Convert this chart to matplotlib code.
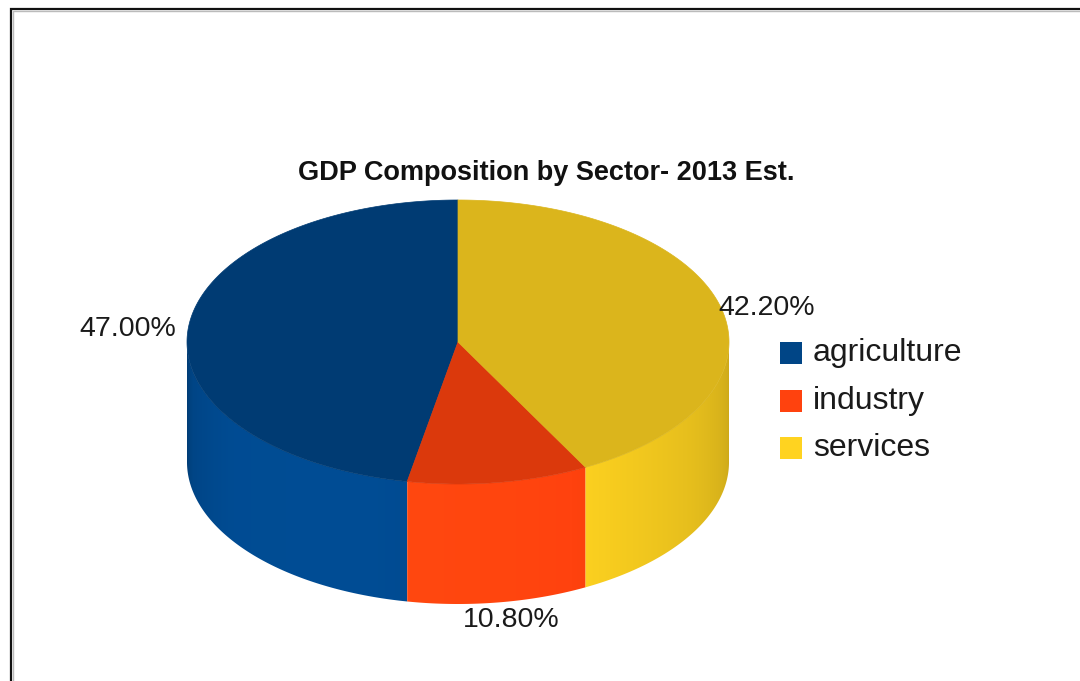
import numpy as np
import matplotlib
matplotlib.use("Agg")
import matplotlib.pyplot as plt
from matplotlib.patches import Polygon, Rectangle
from matplotlib.colors import to_rgb

plt.rcParams['font.family'] = ['Liberation Sans', 'DejaVu Sans']

title = "GDP Composition by Sector- 2013 Est."
sectors = ["agriculture", "industry", "services"]
shares = [47.0, 10.8, 42.2]
colors = ["#004586", "#ff420e", "#ffd320"]

# pie geometry in pixel units (axes spans the whole figure)
cx, cy = 458, 342
rx, ry = 271, 142
depth = 120
start = 90.0

# brightness of the cylinder wall vs. angle (fake lighting)
light_ang = [180, 192, 215, 250, 285, 300, 330, 360]
light_val = [0.86, 1.0, 1.1, 1.11, 1.04, 0.98, 0.9, 0.8]


def ellipse_pts(a0, a1, n=200):
    t = np.radians(np.linspace(a0, a1, n))
    return cx + rx * np.cos(t), cy - ry * np.sin(t)


def shade(c, f):
    r, g, b = to_rgb(c)
    return np.clip(np.array([r, g, b]) * f, 0, 1)


fig = plt.figure(figsize=(10.8, 6.81), dpi=100)
ax = fig.add_axes([0, 0, 1, 1])
ax.set_xlim(0, 1080)
ax.set_ylim(681, 0)
ax.axis("off")

# wedge angles, counter-clockwise from the top
bounds = []
a = start
for s in shares:
    span = 360.0 * s / sum(shares)
    bounds.append((a, a + span))
    a += span

# front sides (only the part between 180 and 360 degrees is visible)
gx = np.linspace(cx - rx, cx + rx, 800)
ang = 360 - np.degrees(np.arccos(np.clip((gx - cx) / rx, -1, 1)))
f = np.interp(ang, light_ang, light_val)
for (a0, a1), col in zip(bounds, colors):
    lo, hi = max(a0, 180), min(a1, 360)
    if hi <= lo:
        lo, hi = max(a0 - 360, 180), min(a1 - 360, 360)
        if hi <= lo:
            continue
    xs, ys = ellipse_pts(lo, hi)
    poly = np.column_stack([np.r_[xs, xs[::-1]], np.r_[ys, ys[::-1] + depth]])
    patch = Polygon(poly, closed=True, facecolor="none", edgecolor="none")
    ax.add_patch(patch)
    img = np.array([shade(col, v) for v in f])[None, :, :]
    im = ax.imshow(img, extent=(cx - rx, cx + rx, cy + ry + depth + 2, cy - 2),
                   aspect="auto", interpolation="bilinear", zorder=2)
    im.set_clip_path(patch)

# top faces
for (a0, a1), col in zip(bounds, colors):
    xs, ys = ellipse_pts(a0, a1)
    pts = np.column_stack([np.r_[cx, xs], np.r_[cy, ys]])
    ax.add_patch(Polygon(pts, closed=True, facecolor=shade(col, 0.86),
                         edgecolor=shade(col, 0.86), lw=0.5, zorder=3))

# percentage labels
for (a0, a1), s in zip(bounds, shares):
    mid = np.radians((a0 + a1) / 2)
    px = cx + rx * np.cos(mid)
    py = cy - ry * np.sin(mid)
    if np.sin(mid) < 0:
        py += depth
    c = np.cos(mid)
    if c < -0.3:
        ha, px = "right", px - 12
    elif c > 0.3:
        ha, px = "left", px - 3
    else:
        ha, px, py = "center", px + 12, py + 18
    ax.text(px, py, f"{s:.2f}%", ha=ha, va="center", fontsize=20.5,
            color="#1a1a1a", zorder=5)

# legend
for i, (name, col) in enumerate(zip(sectors, colors)):
    y = 353 + i * 47.5
    ax.add_patch(Rectangle((780, y - 11), 22, 22, facecolor=col,
                           edgecolor="none", zorder=5))
    ax.text(813, y, name, ha="left", va="center", fontsize=23,
            color="#1a1a1a", zorder=5)

ax.text(546, 173, title, ha="center", va="center", fontsize=19.5,
        fontweight="bold", color="#111111")

# frame on the left and top edges
ax.plot([10.5, 10.5, 1080], [681, 8.5, 8.5], color="#111111", lw=1.6,
        solid_joinstyle="miter", zorder=6)
ax.plot([13, 13, 1080], [681, 11, 11], color="#bbbbbb", lw=1.0, zorder=6)

fig.savefig("out.png", dpi=100)
